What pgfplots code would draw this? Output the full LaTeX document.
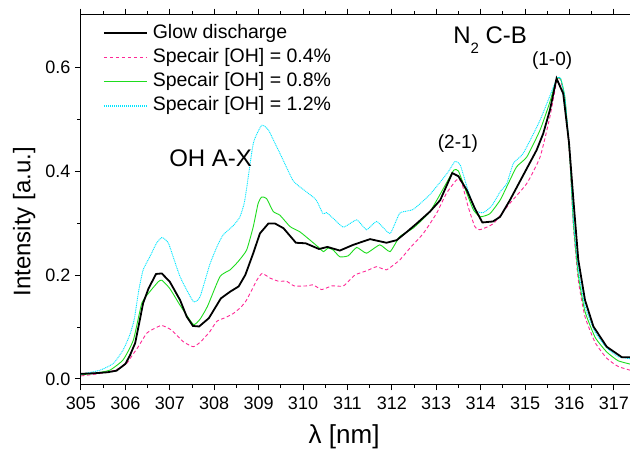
\documentclass[border=0pt]{standalone}
\usepackage{pgfplots}
\pgfplotsset{compat=1.18}
\usepackage{fontspec}
\setmainfont{Liberation Sans}
\definecolor{cpink}{RGB}{255,40,150}
\definecolor{cgreen}{RGB}{30,220,30}
\definecolor{ccyan}{RGB}{0,230,255}
\begin{document}
\begin{tikzpicture}
\begin{axis}[
  at={(0pt,0pt)}, anchor=south west,
  scale only axis, width=552.8pt, height=369.6pt,
  xmin=305, xmax=317.45, ymin=-0.0102, ymax=0.7006,
  xtick={305,306,...,317}, minor x tick num=1,
  ytick={0,0.2,0.4,0.6}, minor y tick num=1,
  xtick pos=both, xticklabel pos=lower, ytick pos=left,
  tick align=outside, major tick length=6pt, minor tick length=3.5pt,
  every tick/.style={black, line width=1pt},
  axis line style={line width=1pt},
  /pgf/number format/assume math mode=true,
  tick label style={font=\fontsize{18}{20}\selectfont},
  yticklabel style={/pgf/number format/fixed, /pgf/number format/fixed zerofill, /pgf/number format/precision=1, xshift=-1pt},
  xticklabel style={/pgf/number format/1000 sep={}, yshift=-3pt},
  xlabel={λ [nm]}, ylabel={Intensity [a.u.]},
  label style={font=\fontsize{24}{28}\selectfont},
  xlabel style={at={(axis description cs:0.476,-0.1426)}, anchor=center, font=\fontsize{26}{30}\selectfont},
  ylabel style={at={(axis description cs:-0.103,0.44)}, anchor=center},
  legend cell align=left,
  legend style={at={(axis description cs:0.034,0.985)}, anchor=north west, draw=none, fill=none,
    font=\fontsize{19.5}{22}\selectfont, row sep=2.4pt, column sep=3pt,
    nodes={text height=13.8pt, text depth=4pt}},
]
\addlegendimage{legend image code/.code={\draw[draw=black, line width=1.8pt] (0pt,0pt) -- (43pt,0pt);}}
\addlegendentry{Glow discharge}
\addlegendimage{legend image code/.code={\draw[draw=cpink, line width=1.4pt, dash pattern=on 3.5pt off 2.5pt] (0pt,0pt) -- (43pt,0pt);}}
\addlegendentry{Specair [OH] = 0.4\%}
\addlegendimage{legend image code/.code={\draw[draw=cgreen, line width=1.4pt] (0pt,0pt) -- (43pt,0pt);}}
\addlegendentry{Specair [OH] = 0.8\%}
\addlegendimage{legend image code/.code={\draw[draw=ccyan, line width=1.2pt, dash pattern=on 1.2pt off 0.8pt] (0pt,0pt) -- (43pt,0pt);}}
\addlegendentry{Specair [OH] = 1.2\%}
\addplot[forget plot, cpink, line width=0.9pt, dash pattern=on 3.5pt off 2.5pt, smooth, tension=0.3] coordinates {
(305.0,0.006) (305.3,0.009) (305.65,0.014) (305.85,0.020) (306.03,0.030) (306.15,0.045)
(306.29,0.062) (306.48,0.088) (306.65,0.097) (306.82,0.103) (307.04,0.094) (307.3,0.072)
(307.53,0.062) (307.7,0.072) (307.9,0.091) (308.06,0.111) (308.25,0.118) (308.43,0.126)
(308.6,0.138) (308.73,0.152) (308.96,0.190) (309.08,0.203) (309.26,0.194) (309.45,0.188)
(309.63,0.188) (309.8,0.179) (310.08,0.179) (310.23,0.181) (310.42,0.172) (310.65,0.179)
(310.91,0.179) (311.17,0.200) (311.43,0.208) (311.66,0.216) (311.88,0.210) (312.18,0.229)
(312.41,0.252) (312.71,0.280) (313.01,0.319) (313.23,0.357) (313.46,0.383) (313.57,0.379)
(313.72,0.331) (313.87,0.293) (313.98,0.287) (314.29,0.299) (314.66,0.338) (315.04,0.376)
(315.34,0.427) (315.56,0.504) (315.72,0.575) (315.79,0.577) (315.9,0.537) (316.01,0.421)
(316.09,0.293) (316.2,0.190) (316.35,0.120) (316.58,0.070) (316.84,0.040) (317.1,0.024)
(317.45,0.015)
};
\addplot[forget plot, cgreen, line width=0.9pt, smooth, tension=0.3] coordinates {
(305.0,0.008) (305.3,0.011) (305.65,0.017) (305.95,0.037) (306.18,0.075) (306.37,0.146)
(306.55,0.168) (306.74,0.187) (306.82,0.190) (307.0,0.174) (307.23,0.142) (307.53,0.105)
(307.68,0.115) (307.85,0.140) (308.13,0.197) (308.36,0.210) (308.54,0.226) (308.73,0.248)
(308.88,0.293) (308.99,0.338) (309.07,0.350) (309.18,0.347) (309.33,0.322) (309.48,0.315)
(309.71,0.293) (309.93,0.283) (310.16,0.267) (310.34,0.254) (310.46,0.245) (310.57,0.252)
(310.68,0.248) (310.83,0.235) (311.02,0.237) (311.21,0.253) (311.43,0.242) (311.73,0.258)
(311.96,0.245) (312.18,0.274) (312.48,0.290) (312.86,0.322) (313.27,0.383) (313.4,0.402)
(313.5,0.400) (313.69,0.357) (313.84,0.325) (313.99,0.312) (314.21,0.318) (314.44,0.344)
(314.59,0.370) (314.81,0.408) (315.04,0.427) (315.34,0.479) (315.55,0.530) (315.71,0.576)
(315.8,0.578) (315.9,0.540) (316.01,0.425) (316.09,0.300) (316.2,0.200) (316.35,0.130)
(316.58,0.080) (316.84,0.052) (317.1,0.035) (317.45,0.027)
};
\addplot[forget plot, ccyan, line width=0.9pt, dash pattern=on 1pt off 0.8pt, smooth, tension=0.3] coordinates {
(305.0,0.009) (305.43,0.017) (305.73,0.030) (305.95,0.056) (306.1,0.085) (306.2,0.115)
(306.3,0.170) (306.4,0.210) (306.55,0.235) (306.7,0.261) (306.82,0.272) (306.97,0.261)
(307.23,0.197) (307.53,0.149)
(307.68,0.158) (307.9,0.220) (308.06,0.254) (308.2,0.277) (308.43,0.295) (308.58,0.312)
(308.69,0.344) (308.88,0.453) (309.07,0.488) (309.22,0.479) (309.37,0.453) (309.52,0.427)
(309.78,0.381) (310.03,0.363) (310.29,0.345) (310.45,0.318) (310.53,0.320) (310.68,0.309)
(310.91,0.292) (311.21,0.306) (311.43,0.287) (311.66,0.303) (311.96,0.280) (312.18,0.319)
(312.48,0.326) (312.86,0.355) (313.25,0.396) (313.42,0.418) (313.54,0.412) (313.69,0.370)
(313.87,0.325) (314.06,0.320) (314.25,0.333) (314.44,0.360) (314.59,0.376) (314.74,0.415)
(314.96,0.434) (315.34,0.498) (315.71,0.576) (315.8,0.578) (315.9,0.540) (316.01,0.430)
(316.09,0.305) (316.2,0.210) (316.35,0.140) (316.58,0.090) (316.84,0.060) (317.1,0.043)
(317.45,0.038)
};
\addplot[forget plot, black, line width=1.8pt] coordinates {
(305.0,0.010) (305.3,0.011) (305.6,0.013) (305.8,0.016) (306.0,0.029) (306.1,0.045)
(306.22,0.069) (306.4,0.146) (306.52,0.174) (306.69,0.202) (306.82,0.203) (307.0,0.187)
(307.23,0.152) (307.38,0.120) (307.52,0.102) (307.66,0.101) (307.88,0.117) (308.15,0.155)
(308.36,0.168) (308.55,0.178) (308.7,0.200) (308.88,0.242) (309.03,0.280) (309.22,0.299)
(309.37,0.299) (309.56,0.290) (309.84,0.262) (310.06,0.261) (310.36,0.250) (310.55,0.254)
(310.83,0.247) (311.13,0.258) (311.51,0.269) (311.88,0.262) (312.11,0.267) (312.34,0.283)
(312.56,0.299) (312.86,0.322) (313.09,0.344) (313.36,0.396) (313.5,0.390) (313.69,0.363)
(313.87,0.328) (314.04,0.301) (314.28,0.303) (314.44,0.312) (314.66,0.344) (314.96,0.392)
(315.26,0.440) (315.41,0.472) (315.56,0.517) (315.71,0.578) (315.86,0.549) (315.99,0.455)
(316.09,0.344) (316.2,0.229) (316.35,0.152) (316.54,0.101) (316.84,0.062) (317.18,0.042)
(317.45,0.042)
};
\node[font=\fontsize{24}{28}\selectfont, anchor=center] at (axis cs:307.92,0.424) {OH A-X};
\node[font=\fontsize{24}{28}\selectfont, anchor=base west, inner sep=0pt] at (axis cs:313.38,0.646) {N\raisebox{-10pt}{\fontsize{15}{15}\selectfont 2} C-B};
\node[font=\fontsize{19}{21}\selectfont, anchor=center] at (axis cs:315.61,0.613) {(1-0)};
\node[font=\fontsize{19}{21}\selectfont, anchor=center] at (axis cs:313.49,0.453) {(2-1)};
\end{axis}
\pgfresetboundingbox
\path[use as bounding box] (-81pt,-63.7pt) rectangle (549pt,384.3pt);
\end{tikzpicture}
\end{document}
